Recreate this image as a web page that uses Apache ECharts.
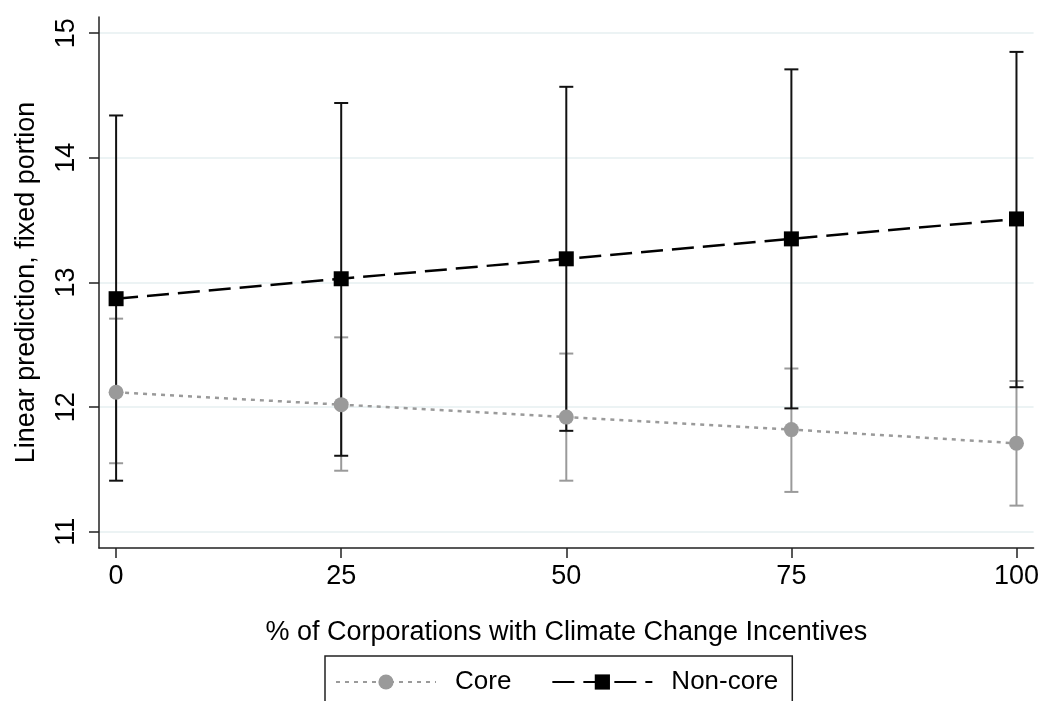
<!DOCTYPE html>
<html>
<head>
<meta charset="utf-8">
<script src="https://cdn.jsdelivr.net/npm/echarts@6/dist/echarts.min.js"></script>
<style>html,body{margin:0;padding:0;background:#fff}#c{width:1042px;height:701px}</style>
</head>
<body>
<div id="c"></div>
<script>
const xValues = [0, 25, 50, 75, 100];
const xTicks = [0, 25, 50, 75, 100];
const yTicks = [11, 12, 13, 14, 15];
const coreMean = [12.12, 12.02, 11.92, 11.82, 11.71];
const coreLow  = [11.55, 11.49, 11.41, 11.32, 11.21];
const coreHigh = [12.71, 12.56, 12.43, 12.31, 12.21];
const nonMean  = [12.87, 13.03, 13.19, 13.35, 13.51];
const nonLow   = [11.41, 11.61, 11.81, 11.99, 12.16];
const nonHigh  = [14.34, 14.44, 14.57, 14.71, 14.85];

const FONT = 'Liberation Sans, Arial, Helvetica, sans-serif';
const GRAY = '#9a9a9a';

function errData(low, high) {
  return xValues.map((x, i) => [x, low[i], high[i]]);
}
function errRender(color) {
  return function (params, api) {
    const x = api.value(0);
    const lo = api.coord([x, api.value(1)]);
    const hi = api.coord([x, api.value(2)]);
    const cap = 7;
    const style = { stroke: color, lineWidth: 2 };
    return {
      type: 'group',
      children: [
        { type: 'line', shape: { x1: lo[0], y1: lo[1], x2: hi[0], y2: hi[1] }, style: style },
        { type: 'line', shape: { x1: lo[0] - cap, y1: lo[1], x2: lo[0] + cap, y2: lo[1] }, style: style },
        { type: 'line', shape: { x1: hi[0] - cap, y1: hi[1], x2: hi[0] + cap, y2: hi[1] }, style: style }
      ]
    };
  };
}

const chart = echarts.init(document.getElementById('c'));
chart.setOption({
  animation: false,
  backgroundColor: '#fff',
  textStyle: { fontFamily: FONT },
  grid: { left: 99, top: 17, right: 8, bottom: 153, containLabel: false },
  xAxis: {
    type: 'value', min: -1.9, max: 101.9,
    name: '% of Corporations with Climate Change Incentives',
    nameLocation: 'middle', nameGap: 71,
    nameTextStyle: { fontSize: 27, color: '#000', fontFamily: FONT },
    axisLine: { show: true, onZero: false, lineStyle: { color: '#222', width: 1.5 } },
    axisTick: { show: true, length: 10, customValues: xTicks, lineStyle: { color: '#222', width: 1.5 } },
    axisLabel: { customValues: xTicks, fontSize: 27, color: '#000', margin: 15, fontFamily: FONT },
    splitLine: { show: false }
  },
  yAxis: {
    type: 'value', min: 10.87, max: 15.13,
    name: 'Linear prediction, fixed portion',
    nameLocation: 'middle', nameGap: 59,
    nameTextStyle: { fontSize: 27, color: '#000', fontFamily: FONT },
    axisLine: { show: true, onZero: false, lineStyle: { color: '#222', width: 1.5 } },
    axisTick: { show: true, length: 10, customValues: yTicks, lineStyle: { color: '#222', width: 1.5 } },
    axisLabel: { customValues: yTicks, fontSize: 27, color: '#000', margin: 19, rotate: 90, fontFamily: FONT },
    splitLine: { show: true, lineStyle: { color: '#e6eff1', width: 1.5 } }
  },
  legend: {
    data: ['Core', 'Non-core'],
    left: 325, top: 656,
    orient: 'horizontal',
    borderColor: '#222', borderWidth: 1.5,
    padding: [13, 14, 30, 10],
    itemWidth: 100, itemHeight: 19, itemGap: 40,
    textStyle: { fontSize: 26, color: '#000', fontFamily: FONT, padding: [0, 0, 0, 14] }
  },
  series: [
    { name: 'coreCI', type: 'custom', renderItem: errRender(GRAY), data: errData(coreLow, coreHigh), z: 2 },
    { name: 'nonCI', type: 'custom', renderItem: errRender('#111'), data: errData(nonLow, nonHigh), z: 3 },
    {
      name: 'Core', type: 'line', z: 4,
      data: xValues.map((x, i) => [x, coreMean[i]]),
      symbol: 'circle', symbolSize: 15,
      itemStyle: { color: GRAY },
      lineStyle: { color: GRAY, width: 2.5, type: [4, 5] }
    },
    {
      name: 'Non-core', type: 'line', z: 5,
      data: xValues.map((x, i) => [x, nonMean[i]]),
      symbol: 'rect', symbolSize: 15,
      itemStyle: { color: '#000' },
      lineStyle: { color: '#000', width: 2.5, type: [22, 9] }
    }
  ]
});
</script>
</body>
</html>
